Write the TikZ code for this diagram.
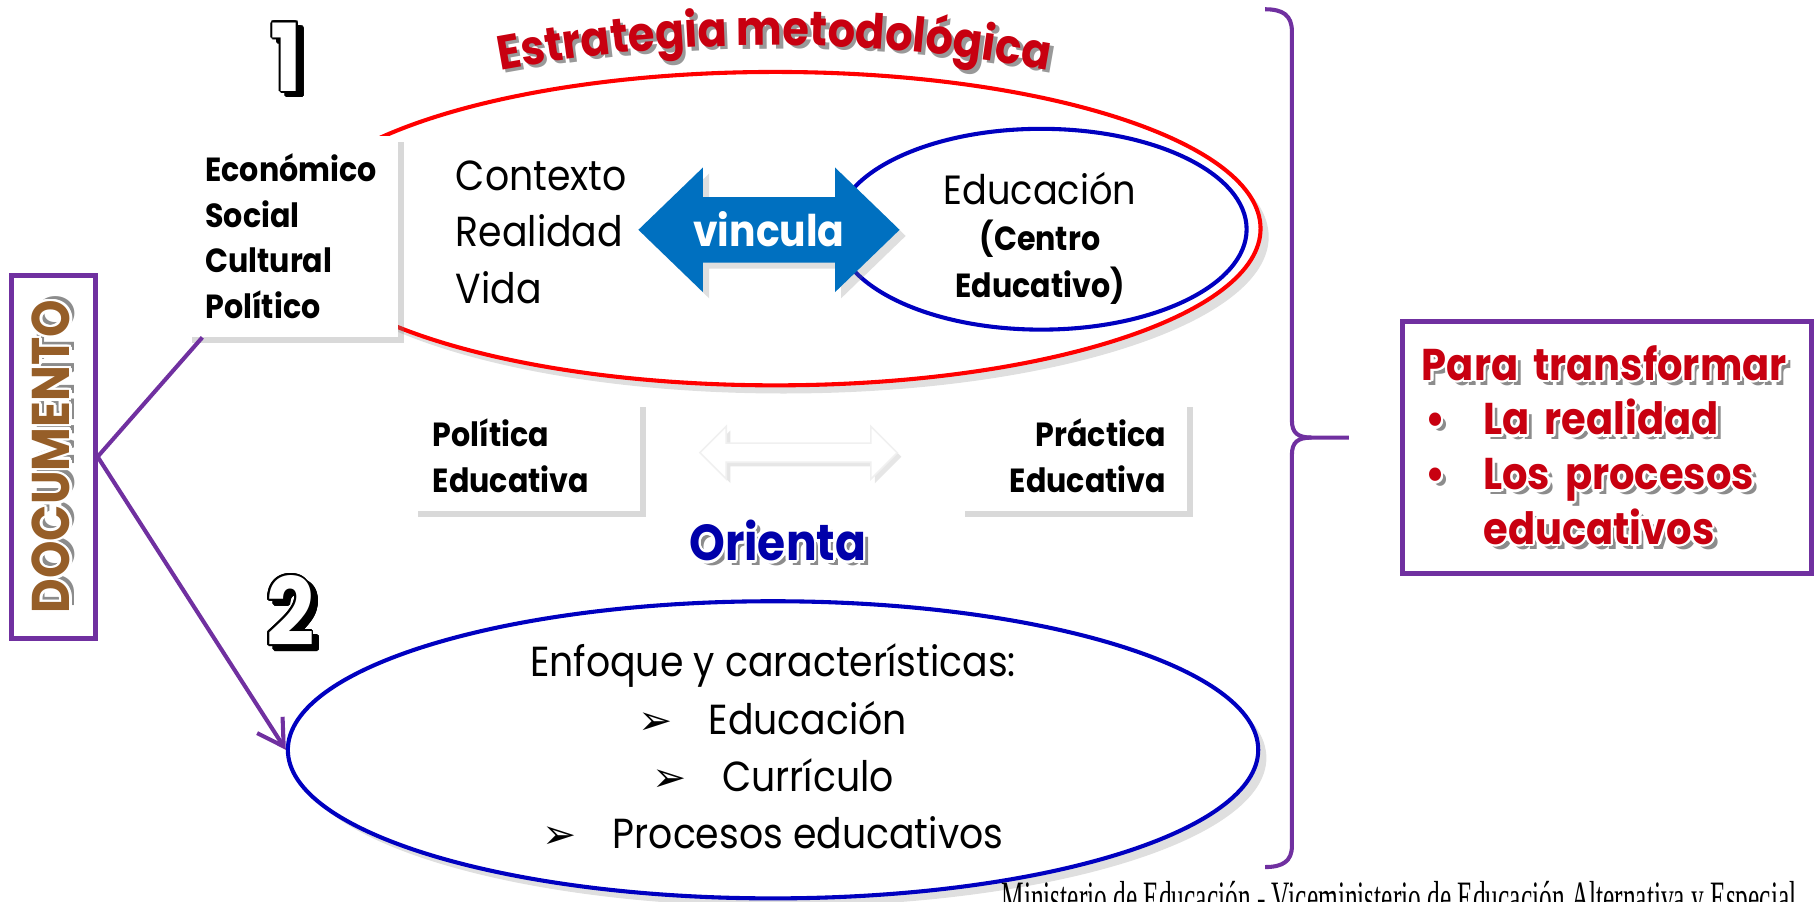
\documentclass[tikz,border=0pt]{standalone}
\usepackage{fontspec}
\setmainfont{Poppins}[FakeStretch=0.9]
\newfontfamily\dingfont{DejaVu Sans}
\newfontfamily\footfont{Liberation Serif}[FakeStretch=0.565]
\usepackage[copies]{contour}
\contourlength{0.6pt}
\usepackage{tikz}
\usetikzlibrary{arrows.meta,positioning,shapes.geometric,shapes.arrows,shadows,decorations.text}

\definecolor{vred}{RGB}{255,0,0}
\definecolor{vblue}{RGB}{0,0,192}
\definecolor{vpurple}{RGB}{112,48,160}
\definecolor{vlink}{RGB}{0,112,192}
\definecolor{tred}{RGB}{200,0,16}
\definecolor{tblue}{RGB}{0,0,170}
\definecolor{tbrown}{RGB}{150,94,40}

% embossed word: grey shadow under a coloured word with a white rim
\newcommand\embtext[2]{\makebox[0pt][l]{\hspace{1.2pt}\raisebox{-1.2pt}{\textcolor{black!45}{#2}}}\textcolor{#1}{\contour{white}{#2}}}
\newcommand\digittxt[1]{\makebox[0pt][l]{\hspace{1.4pt}\raisebox{-1.2pt}{\contourlength{0.45pt}\contour{black}{#1}}}\textcolor{white}{\contourlength{0.45pt}\contour{black}{#1}}}
\newcommand\bul{{\dingfont\fontsize{10}{10}\selectfont ➢}\hspace{0.85em}}

\begin{document}
\begin{tikzpicture}[
  card/.style={rectangle, fill=white, inner sep=0pt, drop shadow={opacity=0.3, shadow xshift=1.5pt, shadow yshift=-1.5pt}},
  ring/.style={ellipse, inner sep=0pt, line width=1pt},
  frame/.style={rectangle, draw=vpurple, line width=1.2pt, fill=white},
  link/.style={draw=vpurple, line width=1pt},
  bodytxt/.style={font=\fontsize{10.3}{13.9}\selectfont},
  boldtxt/.style={font=\bfseries\fontsize{8.2}{11.2}\selectfont}
]
\useasboundingbox (0,0) rectangle (15.68,7.77);

% estrategia
\node[ring, draw=vred, fill=white, minimum width=8.36cm, minimum height=2.70cm, drop shadow={opacity=0.25, shadow xshift=2pt, shadow yshift=-2pt}] (estr) at (6.68,5.80) {};
\node[ring, draw=vblue, minimum width=3.54cm, minimum height=1.73cm] (edring) at (8.97,5.795) {};

\path[decorate, decoration={text along path, text align=center, text={|\bfseries\fontsize{11.8}{11.8}\selectfont\color{black!40}|Estrategia metodológica}}] (3.997,7.066) arc[start angle=102, end angle=78, radius=13];
\path[decorate, decoration={text along path, text align=center, text={|\bfseries\fontsize{11.8}{11.8}\selectfont\color{tred}|Estrategia metodológica}}] (3.967,7.096) arc[start angle=102, end angle=78, radius=13];

\node[double arrow, fill=vlink, double arrow tip angle=88, double arrow head extend=0.255cm, minimum height=2.25cm, text height=0.30cm, text depth=0.02cm, inner xsep=0.1cm, inner ysep=0.115cm, text=white, font=\bfseries\fontsize{10.7}{10.7}\selectfont, drop shadow={opacity=0.25, shadow xshift=1.5pt, shadow yshift=-1.5pt}] (vinc) at (6.625,5.79) {vincula};

\node[bodytxt, anchor=west, align=left, inner xsep=0pt] (ctx) at (3.92,5.77) {Contexto\\Realidad\\Vida};
\node[align=center, font=\bfseries\fontsize{8.2}{11.4}\selectfont] (edu) at (8.96,5.72) {{\mdseries\fontsize{10}{11.4}\selectfont Educación}\\(Centro\\Educativo)};

\node[card, boldtxt, minimum width=1.83cm, minimum height=1.73cm, text width=1.49cm, align=left] (econ) at (2.515,5.735) {Económico\\Social\\Cultural\\Político};

% politica / practica
\node[card, boldtxt, minimum width=1.96cm, minimum height=0.95cm, text width=1.60cm, align=left] (polit) at (4.53,3.845) {Política\\Educativa};
\node[card, boldtxt, minimum width=1.96cm, minimum height=0.95cm, text width=1.60cm, align=right, right=2.74cm of polit] (pract) {Práctica\\Educativa};
\node[double arrow, fill=white, draw=black!6, double arrow tip angle=90, double arrow head extend=0.145cm, minimum height=1.70cm, inner sep=0.075cm, drop shadow={opacity=0.2, shadow xshift=1pt, shadow yshift=-1pt}] (bridge) at (6.88,3.87) {};

\node[font=\bfseries\fontsize{12.4}{12.4}\selectfont] (orient) at (6.70,3.09) {\embtext{tblue}{Orienta}};

% enfoque
\node[ring, draw=vblue, fill=white, minimum width=8.36cm, minimum height=2.56cm, drop shadow={opacity=0.25, shadow xshift=2pt, shadow yshift=-2pt}] (enf) at (6.66,1.31) {};
\node[align=center, font=\fontsize{10.3}{14}\selectfont] (feat) at (6.66,1.34) {Enfoque y características:\\\bul Educación\\\bul Currículo\\\bul Procesos educativos};

\node[font=\bfseries\fontsize{23}{23}\selectfont] (one) at (2.47,7.25) {\digittxt{1}};
\node[font=\bfseries\fontsize{23}{23}\selectfont] (two) at (2.50,2.48) {\digittxt{2}};

\node[frame, rotate=90, minimum width=3.13cm, minimum height=0.72cm, inner sep=0pt, font=\bfseries\fontsize{13}{13}\selectfont] (doc) at (0.46,3.835) {\embtext{tbrown}{DOCUMENTO}};

\draw[link] (doc.south) -- ([xshift=0.15cm]econ.south west);
\draw[link, -{Straight Barb[length=2.2mm, width=2.6mm]}] (doc.south) -- (enf.west);

% brace
\draw[link] (10.90,7.69) .. controls (11.05,7.69) and (11.13,7.64) .. (11.13,7.50) -- (11.13,4.15) .. controls (11.13,4.04) and (11.18,4.00) .. (11.30,4.00) -- (11.62,4.00);
\draw[link] (11.30,4.00) .. controls (11.18,4.00) and (11.13,3.96) .. (11.13,3.85) -- (11.13,0.48) .. controls (11.13,0.35) and (11.05,0.30) .. (10.90,0.30);

\node[frame, minimum width=3.53cm, minimum height=2.17cm, text width=3.19cm, inner sep=0pt, align=left, font=\bfseries\fontsize{10.9}{13.4}\selectfont] (para) at (13.845,3.915) {\embtext{tred}{Para transformar}\\\hspace*{0.03cm}\makebox[0.50cm][l]{\embtext{tred}{•}}\embtext{tred}{La realidad}\\\hspace*{0.03cm}\makebox[0.50cm][l]{\embtext{tred}{•}}\embtext{tred}{Los procesos}\\\hspace*{0.53cm}\embtext{tred}{educativos}};

\node[anchor=base east, font=\footfont\fontsize{11}{11}\selectfont] (foot) at (15.60,-0.09) {Ministerio de Educación - Viceministerio de Educación Alternativa y Especial};
\end{tikzpicture}
\end{document}
